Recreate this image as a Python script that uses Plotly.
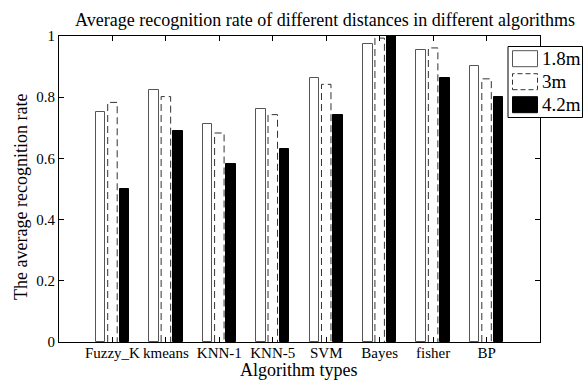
import plotly.graph_objects as go

# Recognition rate of each algorithm at three distances
algorithms = ["Fuzzy_K", "kmeans", "KNN-1", "KNN-5", "SVM", "Bayes", "fisher", "BP"]
rate_1_8m = [0.753, 0.822, 0.712, 0.761, 0.862, 0.974, 0.955, 0.901]
rate_3m = [0.783, 0.802, 0.683, 0.743, 0.842, 0.993, 0.961, 0.860]
rate_4_2m = [0.500, 0.689, 0.583, 0.632, 0.742, 1.000, 0.864, 0.800]
distances = ["1.8m", "3m", "4.2m"]
y_ticks = [0, 0.2, 0.4, 0.6, 0.8, 1]

FONT = "Liberation Serif, Times New Roman, serif"
W, H = 584, 380
L, R, T, B = 59, 44, 36, 38
pos = list(range(1, len(algorithms) + 1))
BAR_W = 0.178
OFFS = [-0.222, 0.0, 0.222]

fig = go.Figure()

# 1.8m: white bars with grey outline
fig.add_trace(go.Bar(
    x=[p + OFFS[0] for p in pos], y=rate_1_8m, width=BAR_W, name=distances[0],
    marker=dict(color="white", line=dict(color="#555555", width=1)),
    showlegend=False,
))
# 3m: white bars, dashed outline drawn separately
fig.add_trace(go.Bar(
    x=[p + OFFS[1] for p in pos], y=rate_3m, width=BAR_W, name=distances[1],
    marker=dict(color="white", line=dict(width=0)),
    showlegend=False,
))
ox, oy = [], []
for p, v in zip(pos, rate_3m):
    l, r = p + OFFS[1] - BAR_W / 2, p + OFFS[1] + BAR_W / 2
    ox += [l, l, r, r, None]
    oy += [0, v, v, 0, None]
fig.add_trace(go.Scatter(
    x=ox, y=oy, mode="lines", showlegend=False, hoverinfo="skip",
    line=dict(color="#333333", width=1, dash="7px,4px"),
))
# 4.2m: solid black bars
fig.add_trace(go.Bar(
    x=[p + OFFS[2] for p in pos], y=rate_4_2m, width=BAR_W, name=distances[2],
    marker=dict(color="black", line=dict(color="black", width=1)),
    showlegend=False,
))


def px_x(px):
    return (px - L) / (W - L - R)


def px_y(py):
    return (H - B - py) / (H - T - B)


# Legend box drawn by hand so the swatches can be large rectangles
shapes = [dict(type="rect", xref="paper", yref="paper",
               x0=px_x(508), x1=px_x(582.5), y0=px_y(117.5), y1=px_y(46.5),
               line=dict(color="black", width=1), fillcolor="white", layer="above")]
rows = [58.7, 81.7, 104.7]
swatch_styles = [
    dict(line=dict(color="#555555", width=1), fillcolor="white"),
    dict(line=dict(color="#333333", width=1, dash="5px,3px"), fillcolor="white"),
    dict(line=dict(color="black", width=1), fillcolor="black"),
]
annotations = []
for cy, st, label in zip(rows, swatch_styles, distances):
    shapes.append(dict(type="rect", xref="paper", yref="paper",
                       x0=px_x(512.5), x1=px_x(537.5),
                       y0=px_y(cy + 8), y1=px_y(cy - 8), layer="above", **st))
    annotations.append(dict(text=label, xref="paper", yref="paper",
                            x=px_x(539.5), y=px_y(cy), xanchor="left", yanchor="middle",
                            showarrow=False, font=dict(family=FONT, size=19, color="black")))

# Axis titles
annotations.append(dict(text="Algorithm types", xref="paper", yref="paper",
                        x=px_x(299), y=px_y(370), xanchor="center", yanchor="middle",
                        showarrow=False, font=dict(family=FONT, size=18, color="black")))
annotations.append(dict(text="The average recognition rate", xref="paper", yref="paper",
                        x=px_x(21), y=px_y(197), xanchor="center", yanchor="middle",
                        textangle=-90, showarrow=False,
                        font=dict(family=FONT, size=18, color="black")))

fig.update_layout(
    width=W, height=H,
    margin=dict(l=L, r=R, t=T, b=B, pad=0, autoexpand=False),
    paper_bgcolor="white", plot_bgcolor="white",
    bargap=0, barmode="overlay",
    font=dict(family=FONT, size=15, color="black"),
    title=dict(text="Average recognition rate of different distances in different algorithms",
               xref="container", yref="container", x=325 / W, xanchor="center",
               y=1 - 19.5 / H, yanchor="middle",
               font=dict(family=FONT, size=18, color="black")),
    xaxis=dict(range=[0, len(algorithms) + 1], tickmode="array", tickvals=pos,
               ticktext=algorithms, ticks="inside", ticklen=5, tickcolor="black",
               ticklabelstandoff=-3, automargin=False,
               showline=True, linecolor="black", linewidth=1, mirror="ticks",
               showgrid=False, zeroline=False,
               tickfont=dict(family=FONT, size=15, color="black")),
    yaxis=dict(range=[0, 1], tickmode="array", tickvals=y_ticks,
               ticktext=[f"{v:g}" for v in y_ticks],
               ticks="inside", ticklen=5, tickcolor="black", automargin=False,
               showline=True, linecolor="black", linewidth=1, mirror="ticks",
               showgrid=False, zeroline=False,
               tickfont=dict(family=FONT, size=15, color="black")),
    shapes=shapes,
    annotations=annotations,
)

fig.write_html("out.html")
